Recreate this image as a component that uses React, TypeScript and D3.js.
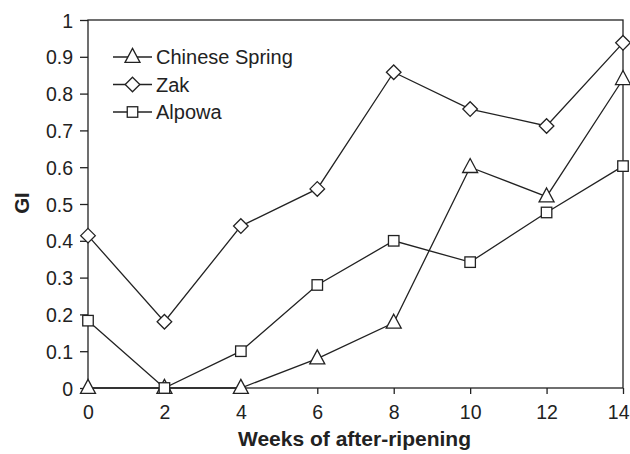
import React, { useEffect, useRef } from "react";
import * as d3 from "d3";

const weeks = [0, 2, 4, 6, 8, 10, 12, 14];
const chineseSpring = [0, 0, 0, 0.08, 0.177, 0.6, 0.52, 0.839];
const zak = [0.414, 0.18, 0.44, 0.541, 0.858, 0.758, 0.712, 0.938];
const alpowa = [0.183, 0, 0.1, 0.28, 0.4, 0.342, 0.477, 0.603];
const yTicks = [0, 0.1, 0.2, 0.3, 0.4, 0.5, 0.6, 0.7, 0.8, 0.9, 1];
const xTicks = [0, 2, 4, 6, 8, 10, 12, 14];

const series = [
  { name: "Chinese Spring", values: chineseSpring, marker: "triangle" },
  { name: "Zak", values: zak, marker: "diamond" },
  { name: "Alpowa", values: alpowa, marker: "square" },
];

const W = 630;
const H = 454;
const margin = { top: 20, right: 7, bottom: 66, left: 88 };
const INK = "#222";
const FONT = "'Liberation Sans', Arial, sans-serif";

function drawMarker(g, type, x, y) {
  if (type === "triangle") {
    const s = 15;
    const h = 14;
    g.append("path")
      .attr("d", `M${x},${y - h * 0.62}L${x + s / 2},${y + h * 0.38}L${x - s / 2},${y + h * 0.38}Z`)
      .attr("fill", "white")
      .attr("stroke", INK)
      .attr("stroke-width", 1.3);
  } else if (type === "diamond") {
    const r = 7.3;
    g.append("path")
      .attr("d", `M${x},${y - r}L${x + r},${y}L${x},${y + r}L${x - r},${y}Z`)
      .attr("fill", "white")
      .attr("stroke", INK)
      .attr("stroke-width", 1.3);
  } else {
    const s = 10.5;
    g.append("rect")
      .attr("x", x - s / 2)
      .attr("y", y - s / 2)
      .attr("width", s)
      .attr("height", s)
      .attr("fill", "white")
      .attr("stroke", INK)
      .attr("stroke-width", 1.3);
  }
}

function renderChart(node) {
  const width = W - margin.left - margin.right;
  const height = H - margin.top - margin.bottom;

  const svg = d3.select(node);
  svg.selectAll("*").remove();

  const canvas = svg.append("g").attr("transform", "translate(" + margin.left + "," + margin.top + ")");

  const xScale = d3.scaleLinear().domain([0, 14]).range([0, width]);
  const yScale = d3.scaleLinear().domain([0, 1]).range([height, 0]);

  // frame
  canvas
    .append("rect")
    .attr("x", 0)
    .attr("y", 0)
    .attr("width", width)
    .attr("height", height)
    .attr("fill", "none")
    .attr("stroke", INK)
    .attr("stroke-width", 1.3);

  // y axis
  const yAxis = canvas
    .append("g")
    .call(d3.axisLeft(yScale).tickValues(yTicks).tickSize(8).tickPadding(7).tickFormat((d) => String(d)));
  yAxis.select(".domain").remove();
  yAxis.selectAll("line").attr("stroke", INK).attr("stroke-width", 1.3);
  yAxis.selectAll("text").attr("font-family", FONT).attr("font-size", 19.5).attr("fill", INK).attr("dy", "0.36em");

  // x axis
  const xAxis = canvas
    .append("g")
    .attr("transform", "translate(0," + height + ")")
    .call(d3.axisBottom(xScale).tickValues(xTicks).tickSize(6).tickPadding(12));
  xAxis.select(".domain").remove();
  xAxis.selectAll("line").attr("stroke", INK).attr("stroke-width", 1.3);
  xAxis.selectAll("text").attr("font-family", FONT).attr("font-size", 19.5).attr("fill", INK).attr("dy", "0.66em");
  // last label sits flush with the page edge
  xAxis
    .selectAll("text")
    .filter((d) => d === 14)
    .attr("text-anchor", "end")
    .attr("x", 6);

  // axis titles
  svg
    .append("text")
    .attr("x", margin.left + width / 2 - 1)
    .attr("y", 446)
    .attr("text-anchor", "middle")
    .attr("font-family", FONT)
    .attr("font-weight", "bold")
    .attr("font-size", 21)
    .attr("fill", INK)
    .text("Weeks of after-ripening");

  svg
    .append("text")
    .attr("transform", "translate(29,203) rotate(-90)")
    .attr("text-anchor", "middle")
    .attr("font-family", FONT)
    .attr("font-weight", "bold")
    .attr("font-size", 20.5)
    .attr("fill", INK)
    .text("GI");

  const line = d3
    .line()
    .x((d, i) => xScale(weeks[i]))
    .y((d) => yScale(d));

  series.forEach((s) => {
    canvas
      .append("path")
      .datum(s.values)
      .attr("d", line)
      .attr("fill", "none")
      .attr("stroke", INK)
      .attr("stroke-width", 1.3);
  });

  series.forEach((s) => {
    const g = canvas.append("g");
    s.values.forEach((v, i) => drawMarker(g, s.marker, xScale(weeks[i]), yScale(v)));
  });

  // legend
  const legend = svg.append("g");
  series.forEach((s, i) => {
    const y = 57 + i * 27.5;
    legend
      .append("line")
      .attr("x1", 113)
      .attr("x2", 152)
      .attr("y1", y)
      .attr("y2", y)
      .attr("stroke", INK)
      .attr("stroke-width", 1.3);
    drawMarker(legend, s.marker, 132.5, y);
    legend
      .append("text")
      .attr("x", 156)
      .attr("y", y)
      .attr("dy", "0.36em")
      .attr("font-family", FONT)
      .attr("font-size", 20)
      .attr("fill", INK)
      .text(s.name);
  });
}

export default function App() {
  const ref = useRef(null);
  useEffect(() => {
    renderChart(ref.current);
  }, []);
  return (
    <svg
      ref={ref}
      width={W}
      height={H}
      style={{ position: "absolute", left: 0, top: 0, background: "white" }}
    />
  );
}
